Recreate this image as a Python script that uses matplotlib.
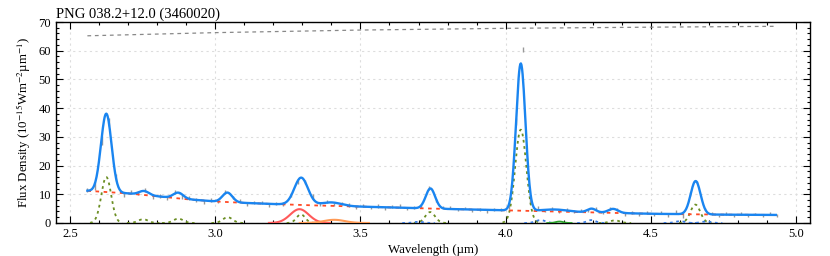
import numpy as np
import matplotlib
matplotlib.use("Agg")
import matplotlib.pyplot as plt
from matplotlib.ticker import MultipleLocator

plt.rcParams['font.family'] = ['Liberation Serif', 'DejaVu Serif']
plt.rcParams['mathtext.fontset'] = 'stix'

title = "PNG 038.2+12.0 (3460020)"

# continuum anchors (red dashed)
cont_wl = [2.56, 2.70, 2.80, 2.90, 3.00, 3.10, 3.20, 3.35, 3.50, 3.75, 4.00, 4.25, 4.50, 4.75, 4.93]
cont_fx = [11.2, 10.3, 9.3, 8.3, 7.5, 7.0, 6.6, 6.1, 5.7, 5.0, 4.4, 3.8, 3.2, 2.9, 2.8]

# total fit line components (centre, amplitude above continuum, FWHM)
fit_c = [2.625, 2.755, 2.873, 3.042, 3.296, 3.40, 3.741, 4.052, 4.17, 4.296, 4.37, 4.654]
fit_a = [27.3, 1.4, 2.0, 3.3, 9.5, 1.2, 7.0, 51.3, 0.7, 1.3, 1.4, 11.6]
fit_w = [0.043, 0.04, 0.04, 0.04, 0.055, 0.08, 0.038, 0.038, 0.10, 0.035, 0.04, 0.04]

# olive dotted line components
ol_c = [2.625, 2.752, 2.873, 3.043, 3.295, 3.740, 4.052, 4.376, 4.653]
ol_a = [16.0, 1.3, 1.5, 2.0, 3.0, 3.8, 32.5, 0.9, 6.4]
ol_w = [0.04, 0.04, 0.04, 0.04, 0.035, 0.04, 0.045, 0.04, 0.04]

# blue dotted components
bd_c = [3.70, 4.12, 4.295, 4.60, 4.69]
bd_a = [0.4, 1.0, 1.0, 0.6, 0.5]
bd_w = [0.04, 0.04, 0.035, 0.04, 0.04]

# red solid (3.3 um), orange solid (3.4 um), green (4.18 um)
red_c, red_a, red_w = 3.29, 4.8, 0.075
ora_c, ora_a, ora_w = 3.41, 1.1, 0.085
grn_c, grn_a, grn_w = 4.185, 0.5, 0.03

# top gray dashed line
top_wl = [2.56, 3.00, 3.50, 4.00, 4.50, 4.93]
top_fx = [65.2, 66.3, 67.2, 67.8, 68.2, 68.5]

# observed data: residuals from the fit and errors
data_wl = np.round(np.arange(2.56, 4.94, 0.025), 3)
resid = [0.3, -0.5, -1.5, 1.0, 0.8, -0.6, 0.4, -0.3, 0.5, -0.7,
         0.2, -0.4, 0.6, -0.8, 0.3, 0.1, -0.5, 0.4, -0.2, 0.6,
         -0.3, 0.5, -0.6, 0.2, 0.4, -0.4, 0.3, -0.2, 0.5, -0.5,
         0.2, 0.6, -0.3, 0.4, -0.6, 0.3, 0.2, -0.4, 0.5, -0.2,
         0.4, -0.5, 0.3, 0.6, -0.3, 0.2, -0.4, 0.5, -0.6, 0.3,
         0.4, -0.2, 0.5, -0.3, 0.2, -0.5, 0.3, 0.4, -0.4, 1.5,
         10.8, -2.5, 0.8, -0.4, 0.3, -0.5, 0.4, -0.2, 0.3, -0.4,
         0.5, -0.3, 0.2, 0.4, -0.5, 0.3, -0.2, 0.4, -0.3, 0.5,
         -0.4, 0.6, -1.0, 0.8, 0.4, -0.3, 0.2, -0.5, 0.4, -0.3,
         0.5, -0.4, 0.3, -0.2, 0.4, -0.3]
errs = [0.8, 1.4, 1.6, 1.5, 1.2, 0.8, 0.7, 0.7, 0.7, 0.7,
        0.7, 0.7, 0.7, 0.7, 0.7, 0.7, 0.7, 0.7, 0.7, 0.7,
        0.6, 0.6, 0.6, 0.6, 0.6, 0.6, 0.6, 0.6, 0.6, 0.6,
        0.7, 0.8, 0.6, 0.6, 0.6, 0.6, 0.6, 0.6, 0.6, 0.6,
        0.6, 0.6, 0.6, 0.6, 0.6, 0.6, 0.6, 0.7, 0.6, 0.6,
        0.5, 0.5, 0.5, 0.5, 0.5, 0.5, 0.5, 0.5, 0.8, 1.2,
        1.0, 1.5, 0.8, 0.5, 0.5, 0.5, 0.5, 0.5, 0.5, 0.5,
        0.5, 0.5, 0.5, 0.5, 0.5, 0.5, 0.5, 0.5, 0.5, 0.5,
        0.5, 0.7, 0.9, 0.8, 0.5, 0.5, 0.5, 0.5, 0.5, 0.5,
        0.5, 0.5, 0.5, 0.5, 0.5, 0.5]


def gauss(x, c, a, w):
    s = w / 2.3548
    return a * np.exp(-0.5 * ((x - c) / s) ** 2)


def gsum(x, cs, as_, ws):
    y = np.zeros_like(x)
    for c, a, w in zip(cs, as_, ws):
        y = y + gauss(x, c, a, w)
    return y


def draw_gauss(ax, c, a, w, **kw):
    xx = np.linspace(c - 1.4 * w, c + 1.4 * w, 120)
    ax.plot(xx, gauss(xx, c, a, w), **kw)


x = np.linspace(2.56, 4.93, 1200)
cont = np.interp(x, cont_wl, cont_fx)
total = cont + gsum(x, fit_c, fit_a, fit_w)
data_fx = np.interp(data_wl, x, total) + np.array(resid)

fig = plt.figure(figsize=(8.3, 2.56), dpi=100)
ax = fig.add_axes([0.0675, 0.129, 0.9085, 0.785])

ax.grid(True, which='major', color='#dddddd', linestyle=(0, (2, 3)), linewidth=0.8)
ax.set_axisbelow(True)

ax.plot(top_wl, top_fx, color='#888888', linestyle=(0, (3, 3)), linewidth=0.9)

ax.errorbar(data_wl, data_fx, yerr=errs, fmt='none', ecolor='#999999', elinewidth=1.0, zorder=2)

for c, a, w in zip(ol_c, ol_a, ol_w):
    draw_gauss(ax, c, a, w, color='#6b8e23', linestyle=(0, (1.5, 2)), linewidth=1.3, zorder=3)
for c, a, w in zip(bd_c, bd_a, bd_w):
    draw_gauss(ax, c, a, w, color='#3a7be0', linestyle=(0, (1.5, 2)), linewidth=1.3, zorder=3)
draw_gauss(ax, red_c, red_a, red_w, color='#ff5a5a', linewidth=1.5, zorder=3)
draw_gauss(ax, ora_c, ora_a, ora_w, color='#ff9a55', linewidth=1.5, zorder=3)
draw_gauss(ax, grn_c, grn_a, grn_w, color='#2ca02c', linewidth=1.3, zorder=3)
ax.plot(cont_wl, cont_fx, color='#ff4a25', linestyle=(0, (2, 2.5)), linewidth=1.3, zorder=4)
ax.plot(x, total, color='#1a85f0', linewidth=1.7, zorder=5)

ax.set_xlim(2.452, 5.048)
ax.set_ylim(0, 70)
ax.xaxis.set_major_locator(MultipleLocator(0.5))
ax.xaxis.set_minor_locator(MultipleLocator(0.1))
ax.yaxis.set_major_locator(MultipleLocator(10))
ax.yaxis.set_minor_locator(MultipleLocator(2))
ax.tick_params(which='both', direction='in', top=True, right=True, labelsize=9, width=0.8)
ax.tick_params(which='major', length=5)
ax.tick_params(which='minor', length=2.5)
for sp in ax.spines.values():
    sp.set_linewidth(1.0)

ax.set_xlabel("Wavelength (µm)", fontsize=9.3, labelpad=3)
ax.set_ylabel("Flux Density (10$^{-15}$Wm$^{-2}$µm$^{-1}$)", fontsize=9.3, labelpad=4)
ax.set_title(title, loc='left', fontsize=10.5, pad=3)

fig.savefig("out.png", dpi=100)
